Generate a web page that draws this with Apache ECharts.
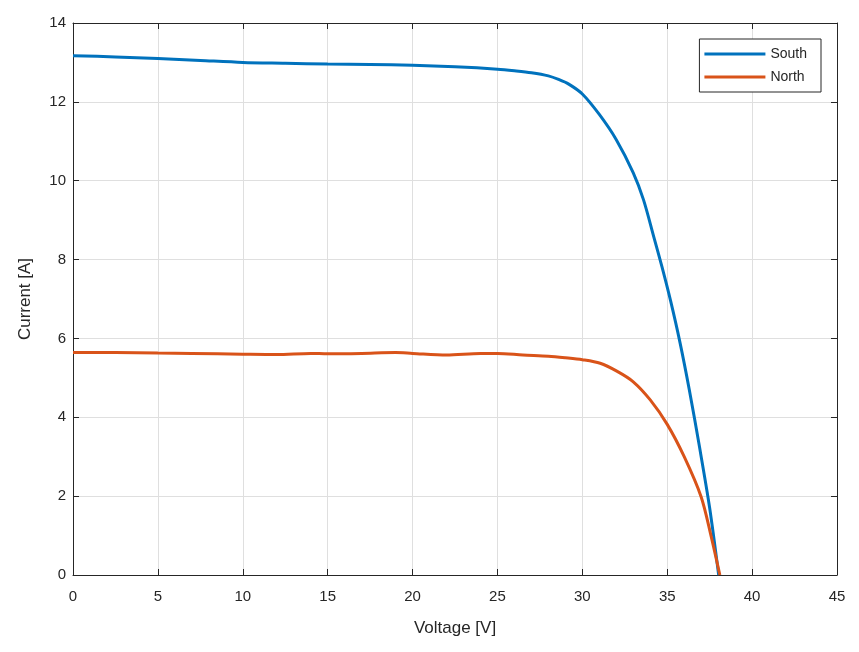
<!DOCTYPE html>
<html>
<head>
<meta charset="utf-8">
<script src="https://cdn.jsdelivr.net/npm/echarts@6/dist/echarts.min.js"></script>
<style>html,body{margin:0;padding:0;background:#fff;}#c{width:859px;height:652px;}</style>
</head>
<body>
<div id="c"></div>
<script>
const southV = [0, 2.5, 5, 7.5, 10, 12.5, 15, 17.5, 20, 22.5, 25, 26, 27, 28, 28.6, 29.2, 30, 31, 32, 33, 33.6, 34.2, 34.7, 35.2, 35.75, 36.3, 36.9, 37.5, 38.03];
const southI = [13.17, 13.14, 13.10, 13.05, 13.0, 12.98, 12.96, 12.95, 12.93, 12.89, 12.83, 12.79, 12.74, 12.66, 12.57, 12.45, 12.2, 11.68, 11.04, 10.2, 9.52, 8.59, 7.8, 6.95, 5.9, 4.7, 3.25, 1.7, 0];
const northV = [0, 2.5, 5, 7, 10, 12, 14, 15, 17, 19, 20, 22, 24, 25, 26.5, 28, 29, 30, 31.05, 32.03, 33, 34, 35, 36, 37, 37.55, 38.1];
const northI = [5.64, 5.64, 5.63, 5.62, 5.60, 5.59, 5.62, 5.61, 5.62, 5.64, 5.62, 5.58, 5.62, 5.62, 5.58, 5.55, 5.51, 5.46, 5.37, 5.17, 4.9, 4.44, 3.82, 3.0, 1.98, 1.05, 0];
const seriesNames = ['South', 'North'];
const xTicks = [0, 5, 10, 15, 20, 25, 30, 35, 40, 45];
const yTicks = [0, 2, 4, 6, 8, 10, 12, 14];

const font = '"Liberation Sans", Arial, Helvetica, sans-serif';
const axisCol = '#262626';
const gridCol = '#dfdfdf';

const chart = echarts.init(document.getElementById('c'));
const pair = (xs, ys) => xs.map((x, i) => [x, ys[i]]);

const baseX = {
  type: 'value', min: xTicks[0], max: xTicks[xTicks.length - 1], interval: 5,
  axisLine: { show: true, onZero: false, lineStyle: { color: axisCol, width: 1 } },
  axisTick: { show: true, inside: true, length: 6, lineStyle: { color: axisCol } },
  splitLine: { show: false }
};
const baseY = {
  type: 'value', min: yTicks[0], max: yTicks[yTicks.length - 1], interval: 2,
  axisLine: { show: true, onZero: false, lineStyle: { color: axisCol, width: 1 } },
  axisTick: { show: true, inside: true, length: 6, lineStyle: { color: axisCol } },
  splitLine: { show: false }
};

chart.setOption({
  backgroundColor: '#ffffff',
  animation: false,
  grid: { left: 73, right: 22, top: 23, bottom: 77, containLabel: false },
  legend: {
    data: seriesNames.map(n => ({ name: n, icon: 'rect' })),
    orient: 'vertical',
    right: 38, top: 39,
    itemWidth: 61, itemHeight: 3, itemGap: 7,
    padding: [7, 14, 7, 5],
    borderColor: axisCol, borderWidth: 1,
    backgroundColor: '#ffffff',
    textStyle: { fontFamily: font, fontSize: 14, color: axisCol, lineHeight: 16 }
  },
  xAxis: [
    Object.assign({}, baseX, {
      position: 'bottom',
      name: 'Voltage [V]', nameLocation: 'middle', nameGap: 45,
      nameTextStyle: { fontFamily: font, fontSize: 17, color: axisCol },
      axisLabel: { show: true, margin: 14, fontFamily: font, fontSize: 15, color: axisCol },
      splitLine: { show: true, lineStyle: { color: gridCol, width: 1 } }
    }),
    Object.assign({}, baseX, { position: 'top', axisLabel: { show: false } })
  ],
  yAxis: [
    Object.assign({}, baseY, {
      position: 'left',
      name: 'Current [A]', nameLocation: 'middle', nameGap: 39,
      nameTextStyle: { fontFamily: font, fontSize: 17, color: axisCol },
      axisLabel: { show: true, margin: 7, fontFamily: font, fontSize: 15, color: axisCol },
      splitLine: { show: true, lineStyle: { color: gridCol, width: 1 } }
    }),
    Object.assign({}, baseY, { position: 'right', axisLabel: { show: false } })
  ],
  series: [
    {
      name: seriesNames[0], type: 'line', data: pair(southV, southI),
      xAxisIndex: 0, yAxisIndex: 0,
      smooth: 0.3, showSymbol: false,
      lineStyle: { color: '#0072BD', width: 3 }, itemStyle: { color: '#0072BD' }
    },
    {
      name: seriesNames[1], type: 'line', data: pair(northV, northI),
      xAxisIndex: 0, yAxisIndex: 0,
      smooth: 0.3, showSymbol: false,
      lineStyle: { color: '#D95319', width: 3 }, itemStyle: { color: '#D95319' }
    }
  ]
});
</script>
</body>
</html>
